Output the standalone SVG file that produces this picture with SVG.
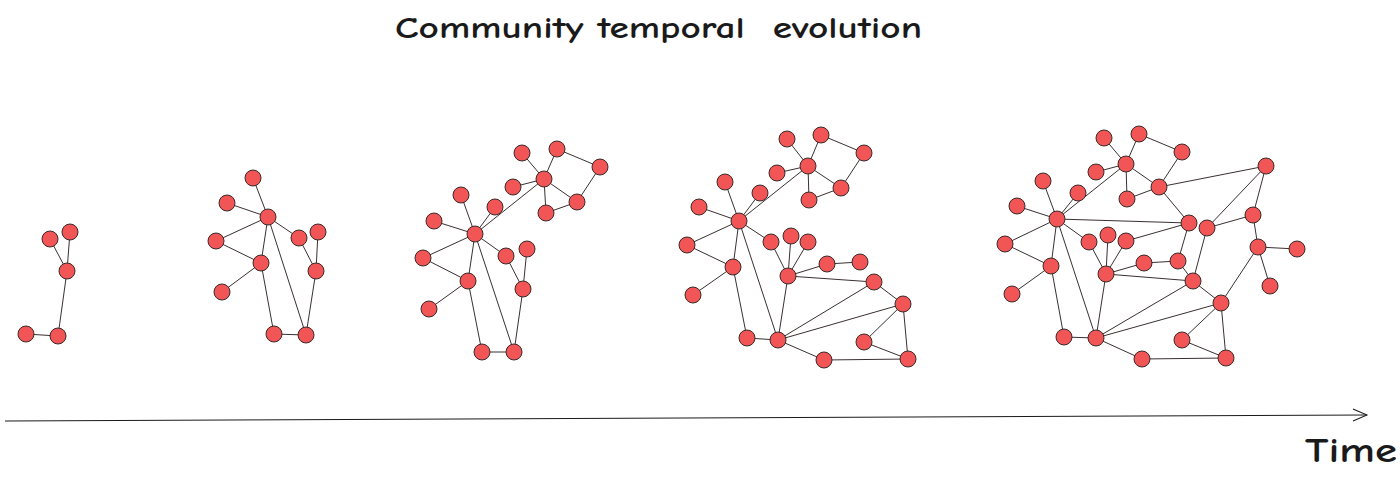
<svg xmlns="http://www.w3.org/2000/svg" width="1400" height="477" viewBox="0 0 1400 477">
<style>
.n{fill:#f25555;stroke:#3a2a2a;stroke-width:1}
.e line{stroke:#3a3030;stroke-width:1}
.t{font-family:"Comic Neue","Liberation Sans",sans-serif;fill:#1a1a1a;font-weight:bold;white-space:pre}
</style>
<defs>
<marker id="ah" markerWidth="20" markerHeight="14" refX="15" refY="7" orient="auto" markerUnits="userSpaceOnUse">
<path d="M1,1 L15,7 L1,13" fill="none" stroke="#1a1a1a" stroke-width="1"/>
</marker>
</defs>
<rect width="1400" height="477" fill="#fff"/>
<text class="t" x="395" y="38" font-size="30" textLength="527" lengthAdjust="spacingAndGlyphs" xml:space="preserve">Community temporal  evolution</text>
<g id="axis"><line x1="5" y1="421" x2="1367" y2="415" stroke="#1a1a1a" stroke-width="1" marker-end="url(#ah)"/></g>
<text class="t" x="1305" y="462" font-size="34" textLength="92" lengthAdjust="spacingAndGlyphs">Time</text>

<g id="connectors" class="e">
<!-- graph 1 -->
<line x1="50" y1="239" x2="67" y2="271"/><line x1="70" y1="232" x2="67" y2="271"/><line x1="67" y1="271" x2="58" y2="336"/><line x1="58" y1="336" x2="26" y2="334"/>
<!-- graph 2 -->
<line x1="253" y1="178" x2="268" y2="217"/><line x1="227" y1="203" x2="268" y2="217"/><line x1="268" y1="217" x2="216" y2="241"/><line x1="268" y1="217" x2="299" y2="238"/><line x1="268" y1="217" x2="261" y2="263"/><line x1="268" y1="217" x2="306" y2="335"/><line x1="216" y1="241" x2="261" y2="263"/><line x1="261" y1="263" x2="222" y2="292"/><line x1="261" y1="263" x2="274" y2="334"/><line x1="274" y1="334" x2="306" y2="335"/><line x1="306" y1="335" x2="316" y2="271"/><line x1="316" y1="271" x2="299" y2="238"/><line x1="316" y1="271" x2="318" y2="232"/>
<!-- graph 3 -->
<line x1="522" y1="153" x2="544" y2="179"/><line x1="557" y1="149" x2="544" y2="179"/><line x1="557" y1="149" x2="600" y2="167"/><line x1="600" y1="167" x2="577" y2="202"/><line x1="577" y1="202" x2="546" y2="213"/><line x1="544" y1="179" x2="513" y2="187"/><line x1="544" y1="179" x2="546" y2="213"/><line x1="544" y1="179" x2="577" y2="202"/><line x1="544" y1="179" x2="475" y2="234"/><line x1="461" y1="195" x2="475" y2="234"/><line x1="495" y1="207" x2="475" y2="234"/><line x1="434" y1="221" x2="475" y2="234"/><line x1="475" y1="234" x2="423" y2="258"/><line x1="475" y1="234" x2="506" y2="256"/><line x1="475" y1="234" x2="468" y2="281"/><line x1="475" y1="234" x2="514" y2="352"/><line x1="423" y1="258" x2="468" y2="281"/><line x1="468" y1="281" x2="429" y2="309"/><line x1="468" y1="281" x2="482" y2="352"/><line x1="482" y1="352" x2="514" y2="352"/><line x1="514" y1="352" x2="523" y2="289"/><line x1="523" y1="289" x2="506" y2="256"/><line x1="523" y1="289" x2="527" y2="249"/>
<!-- graph 4 -->
<line x1="787" y1="139" x2="808" y2="166"/><line x1="821" y1="135" x2="808" y2="166"/><line x1="821" y1="135" x2="864" y2="153"/><line x1="864" y1="153" x2="841" y2="188"/><line x1="841" y1="188" x2="809" y2="200"/><line x1="808" y1="166" x2="777" y2="173"/><line x1="808" y1="166" x2="809" y2="200"/><line x1="808" y1="166" x2="841" y2="188"/><line x1="808" y1="166" x2="739" y2="221"/><line x1="725" y1="182" x2="739" y2="221"/><line x1="760" y1="193" x2="739" y2="221"/><line x1="699" y1="207" x2="739" y2="221"/><line x1="739" y1="221" x2="687" y2="245"/><line x1="739" y1="221" x2="771" y2="242"/><line x1="739" y1="221" x2="733" y2="267"/><line x1="739" y1="221" x2="778" y2="340"/><line x1="687" y1="245" x2="733" y2="267"/><line x1="733" y1="267" x2="693" y2="295"/><line x1="733" y1="267" x2="747" y2="338"/><line x1="747" y1="338" x2="778" y2="340"/><line x1="778" y1="340" x2="788" y2="276"/><line x1="788" y1="276" x2="771" y2="242"/><line x1="788" y1="276" x2="791" y2="236"/><line x1="788" y1="276" x2="808" y2="242"/><line x1="788" y1="276" x2="827" y2="264"/><line x1="827" y1="264" x2="860" y2="262"/><line x1="788" y1="276" x2="874" y2="282"/><line x1="874" y1="282" x2="903" y2="304"/><line x1="778" y1="340" x2="874" y2="282"/><line x1="778" y1="340" x2="903" y2="304"/><line x1="778" y1="340" x2="824" y2="360"/><line x1="824" y1="360" x2="908" y2="359"/><line x1="908" y1="359" x2="903" y2="304"/><line x1="903" y1="304" x2="864" y2="342"/><line x1="864" y1="342" x2="908" y2="359"/>
<!-- graph 5 -->
<line x1="1104" y1="138" x2="1126" y2="164"/><line x1="1139" y1="134" x2="1126" y2="164"/><line x1="1139" y1="134" x2="1182" y2="152"/><line x1="1182" y1="152" x2="1159" y2="187"/><line x1="1159" y1="187" x2="1127" y2="199"/><line x1="1126" y1="164" x2="1096" y2="172"/><line x1="1126" y1="164" x2="1127" y2="199"/><line x1="1126" y1="164" x2="1159" y2="187"/><line x1="1126" y1="164" x2="1057" y2="219"/><line x1="1159" y1="187" x2="1266" y2="166"/><line x1="1159" y1="187" x2="1189" y2="223"/><line x1="1057" y1="219" x2="1189" y2="223"/><line x1="1266" y1="166" x2="1207" y2="228"/><line x1="1266" y1="166" x2="1253" y2="215"/><line x1="1207" y1="228" x2="1253" y2="215"/><line x1="1253" y1="215" x2="1258" y2="247"/><line x1="1258" y1="247" x2="1297" y2="249"/><line x1="1258" y1="247" x2="1270" y2="286"/><line x1="1258" y1="247" x2="1221" y2="303"/><line x1="1189" y1="223" x2="1126" y2="241"/><line x1="1189" y1="223" x2="1178" y2="261"/><line x1="1207" y1="228" x2="1193" y2="281"/><line x1="1144" y1="263" x2="1178" y2="261"/><line x1="1178" y1="261" x2="1193" y2="281"/><line x1="1106" y1="274" x2="1144" y2="263"/><line x1="1106" y1="274" x2="1089" y2="242"/><line x1="1106" y1="274" x2="1108" y2="235"/><line x1="1106" y1="274" x2="1126" y2="241"/><line x1="1106" y1="274" x2="1193" y2="281"/><line x1="1106" y1="274" x2="1096" y2="338"/><line x1="1193" y1="281" x2="1221" y2="303"/><line x1="1096" y1="338" x2="1193" y2="281"/><line x1="1096" y1="338" x2="1221" y2="303"/><line x1="1057" y1="219" x2="1043" y2="181"/><line x1="1057" y1="219" x2="1078" y2="193"/><line x1="1057" y1="219" x2="1017" y2="206"/><line x1="1057" y1="219" x2="1005" y2="244"/><line x1="1057" y1="219" x2="1089" y2="242"/><line x1="1057" y1="219" x2="1051" y2="266"/><line x1="1057" y1="219" x2="1096" y2="338"/><line x1="1005" y1="244" x2="1051" y2="266"/><line x1="1051" y1="266" x2="1012" y2="294"/><line x1="1051" y1="266" x2="1064" y2="337"/><line x1="1064" y1="337" x2="1096" y2="338"/><line x1="1096" y1="338" x2="1142" y2="359"/><line x1="1142" y1="359" x2="1226" y2="358"/><line x1="1226" y1="358" x2="1221" y2="303"/><line x1="1221" y1="303" x2="1182" y2="340"/><line x1="1182" y1="340" x2="1226" y2="358"/>
</g>

<g id="g1">
<circle id="g1n1" class="n" cx="50" cy="239" r="8"/><circle id="g1n2" class="n" cx="70" cy="232" r="8"/><circle id="g1n3" class="n" cx="67" cy="271" r="8"/><circle id="g1n4" class="n" cx="58" cy="336" r="8"/><circle id="g1n5" class="n" cx="26" cy="334" r="8"/>
</g>
<g id="g2">
<circle id="g2n1" class="n" cx="253" cy="178" r="8"/><circle id="g2n2" class="n" cx="227" cy="203" r="8"/><circle id="g2n3" class="n" cx="268" cy="217" r="8"/><circle id="g2n4" class="n" cx="216" cy="241" r="8"/><circle id="g2n5" class="n" cx="299" cy="238" r="8"/><circle id="g2n6" class="n" cx="318" cy="232" r="8"/><circle id="g2n7" class="n" cx="261" cy="263" r="8"/><circle id="g2n8" class="n" cx="316" cy="271" r="8"/><circle id="g2n9" class="n" cx="222" cy="292" r="8"/><circle id="g2n10" class="n" cx="274" cy="334" r="8"/><circle id="g2n11" class="n" cx="306" cy="335" r="8"/>
</g>
<g id="g3">
<circle id="g3n1" class="n" cx="522" cy="153" r="8"/><circle id="g3n2" class="n" cx="557" cy="149" r="8"/><circle id="g3n3" class="n" cx="600" cy="167" r="8"/><circle id="g3n4" class="n" cx="544" cy="179" r="8"/><circle id="g3n5" class="n" cx="513" cy="187" r="8"/><circle id="g3n6" class="n" cx="577" cy="202" r="8"/><circle id="g3n7" class="n" cx="546" cy="213" r="8"/><circle id="g3n8" class="n" cx="461" cy="195" r="8"/><circle id="g3n9" class="n" cx="495" cy="207" r="8"/><circle id="g3n10" class="n" cx="434" cy="221" r="8"/><circle id="g3n11" class="n" cx="475" cy="234" r="8"/><circle id="g3n12" class="n" cx="423" cy="258" r="8"/><circle id="g3n13" class="n" cx="506" cy="256" r="8"/><circle id="g3n14" class="n" cx="527" cy="249" r="8"/><circle id="g3n15" class="n" cx="468" cy="281" r="8"/><circle id="g3n16" class="n" cx="523" cy="289" r="8"/><circle id="g3n17" class="n" cx="429" cy="309" r="8"/><circle id="g3n18" class="n" cx="482" cy="352" r="8"/><circle id="g3n19" class="n" cx="514" cy="352" r="8"/>
</g>
<g id="g4">
<circle id="g4n1" class="n" cx="787" cy="139" r="8"/><circle id="g4n2" class="n" cx="821" cy="135" r="8"/><circle id="g4n3" class="n" cx="864" cy="153" r="8"/><circle id="g4n4" class="n" cx="808" cy="166" r="8"/><circle id="g4n5" class="n" cx="777" cy="173" r="8"/><circle id="g4n6" class="n" cx="841" cy="188" r="8"/><circle id="g4n7" class="n" cx="809" cy="200" r="8"/><circle id="g4n8" class="n" cx="725" cy="182" r="8"/><circle id="g4n9" class="n" cx="760" cy="193" r="8"/><circle id="g4n10" class="n" cx="699" cy="207" r="8"/><circle id="g4n11" class="n" cx="739" cy="221" r="8"/><circle id="g4n12" class="n" cx="687" cy="245" r="8"/><circle id="g4n13" class="n" cx="771" cy="242" r="8"/><circle id="g4n14" class="n" cx="791" cy="236" r="8"/><circle id="g4n15" class="n" cx="808" cy="242" r="8"/><circle id="g4n16" class="n" cx="733" cy="267" r="8"/><circle id="g4n17" class="n" cx="827" cy="264" r="8"/><circle id="g4n18" class="n" cx="860" cy="262" r="8"/><circle id="g4n19" class="n" cx="788" cy="276" r="8"/><circle id="g4n20" class="n" cx="874" cy="282" r="8"/><circle id="g4n21" class="n" cx="693" cy="295" r="8"/><circle id="g4n22" class="n" cx="903" cy="304" r="8"/><circle id="g4n23" class="n" cx="747" cy="338" r="8"/><circle id="g4n24" class="n" cx="778" cy="340" r="8"/><circle id="g4n25" class="n" cx="864" cy="342" r="8"/><circle id="g4n26" class="n" cx="824" cy="360" r="8"/><circle id="g4n27" class="n" cx="908" cy="359" r="8"/>
</g>
<g id="g5">
<circle id="g5n1" class="n" cx="1104" cy="138" r="8"/><circle id="g5n2" class="n" cx="1139" cy="134" r="8"/><circle id="g5n3" class="n" cx="1182" cy="152" r="8"/><circle id="g5n4" class="n" cx="1126" cy="164" r="8"/><circle id="g5n5" class="n" cx="1096" cy="172" r="8"/><circle id="g5n6" class="n" cx="1159" cy="187" r="8"/><circle id="g5n7" class="n" cx="1127" cy="199" r="8"/><circle id="g5n8" class="n" cx="1043" cy="181" r="8"/><circle id="g5n9" class="n" cx="1078" cy="193" r="8"/><circle id="g5n10" class="n" cx="1017" cy="206" r="8"/><circle id="g5n11" class="n" cx="1057" cy="219" r="8"/><circle id="g5n12" class="n" cx="1266" cy="166" r="8"/><circle id="g5n13" class="n" cx="1189" cy="223" r="8"/><circle id="g5n14" class="n" cx="1207" cy="228" r="8"/><circle id="g5n15" class="n" cx="1253" cy="215" r="8"/><circle id="g5n16" class="n" cx="1005" cy="244" r="8"/><circle id="g5n17" class="n" cx="1089" cy="242" r="8"/><circle id="g5n18" class="n" cx="1108" cy="235" r="8"/><circle id="g5n19" class="n" cx="1126" cy="241" r="8"/><circle id="g5n20" class="n" cx="1258" cy="247" r="8"/><circle id="g5n21" class="n" cx="1297" cy="249" r="8"/><circle id="g5n22" class="n" cx="1051" cy="266" r="8"/><circle id="g5n23" class="n" cx="1144" cy="263" r="8"/><circle id="g5n24" class="n" cx="1178" cy="261" r="8"/><circle id="g5n25" class="n" cx="1106" cy="274" r="8"/><circle id="g5n26" class="n" cx="1193" cy="281" r="8"/><circle id="g5n27" class="n" cx="1270" cy="286" r="8"/><circle id="g5n28" class="n" cx="1012" cy="294" r="8"/><circle id="g5n29" class="n" cx="1221" cy="303" r="8"/><circle id="g5n30" class="n" cx="1064" cy="337" r="8"/><circle id="g5n31" class="n" cx="1096" cy="338" r="8"/><circle id="g5n32" class="n" cx="1182" cy="340" r="8"/><circle id="g5n33" class="n" cx="1142" cy="359" r="8"/><circle id="g5n34" class="n" cx="1226" cy="358" r="8"/>
</g>
</svg>
